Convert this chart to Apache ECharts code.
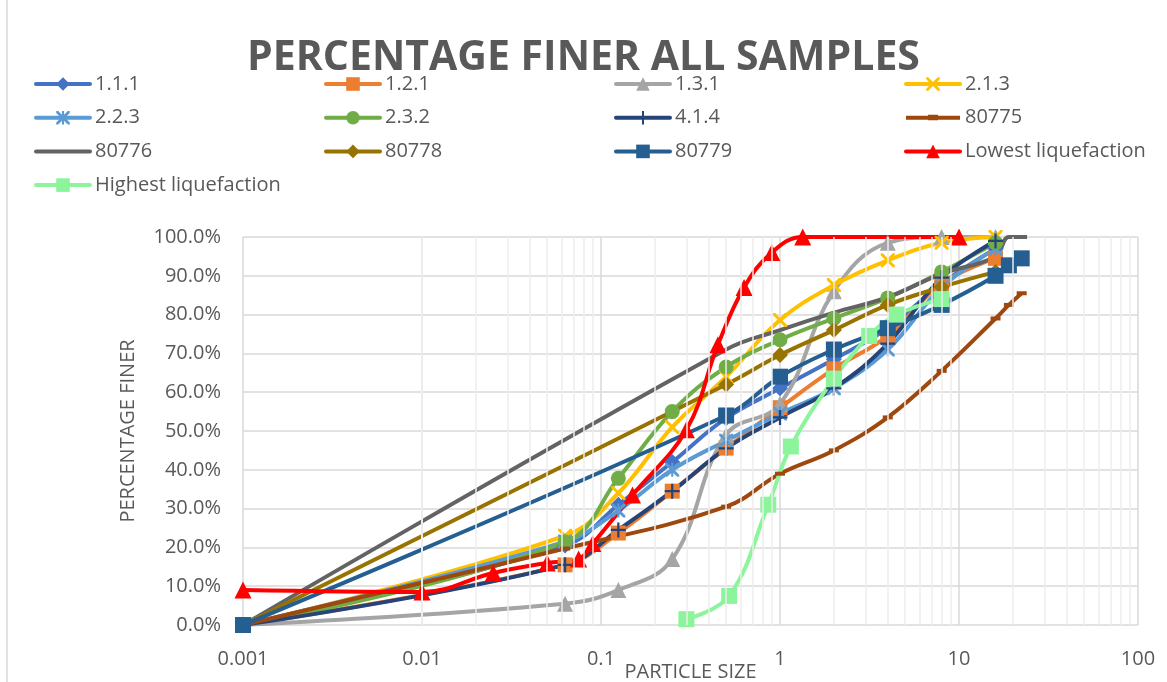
<!DOCTYPE html>
<html><head><meta charset="utf-8">
<script src="https://cdn.jsdelivr.net/npm/echarts@6/dist/echarts.min.js"></script>
<style>html,body{margin:0;padding:0;background:#fff;overflow:hidden}#c{width:1167px;height:682px}</style>
</head><body><div id="c"></div>
<script>
// ---- data ----
const SIZES = [0.001, 0.063, 0.125, 0.25, 0.5, 1, 2, 4, 8, 16];
const S_111 = [0, 20.5, 31, 42, 53.3, 61, 68.5, 76.5, 88, 97];
const S_121 = [0, 15.5, 23.7, 34.5, 45.6, 56, 66, 74.5, 88, 94.5];
const S_131 = [0, 5.5, 9, 17, 49, 57, 86, 98.5, 100, 100];
const S_213 = [0, 23, 34, 51, 64, 78.6, 87.6, 94, 98.5, 100];
const S_223 = [0, 21.5, 29.5, 40, 47.5, 54.5, 61, 71, 87, 97];
const S_232 = [0, 21.4, 37.8, 55, 66.5, 73.5, 79, 84.3, 91, 98.5];
const S_414 = [0, 15.5, 24.5, 34.5, 45.5, 53.5, 61, 72.5, 89.5, 99];
const X_80775 = [0.001, 0.063, 0.5, 1, 2, 4, 8, 16, 19, 22.4];
const S_80775 = [0, 19.7, 30.5, 39, 45, 53.5, 65.5, 79, 82.5, 85.5];
const X_80776 = [0.001, 0.5, 1, 2, 4, 8, 16, 19, 24];
const S_80776 = [0, 71, 76, 80.5, 84.5, 90.5, 95, 100, 100];
const X_80778 = [0.001, 0.5, 1, 2, 4, 8, 16];
const S_80778 = [0, 62, 69.6, 76, 82.5, 87.1, 91];
const X_80779 = [0.001, 0.5, 1, 2, 4, 8, 16, 19, 22.4];
const S_80779 = [0, 54, 64, 71, 76.5, 82.5, 90, 92.7, 94.5];
const X_LOW = [0.001, 0.01, 0.025, 0.05, 0.075, 0.09, 0.15, 0.3, 0.45, 0.63, 0.9, 1.34, 10];
const S_LOW = [9, 8.5, 13.4, 16, 17, 21, 33.5, 50.3, 72.2, 87, 96, 100, 100];
const X_HIGH = [0.3, 0.52, 0.86, 1.15, 2, 3.15, 4.5, 8];
const S_HIGH = [1.5, 7.5, 31, 46, 63.5, 74.5, 80, 84];
const X_TICKS = [0.001, 0.01, 0.1, 1, 10, 100];

// ---- symbols ----
const SYM_X = 'path://M0,0 L3,0 L10,7 L17,0 L20,0 L20,3 L13,10 L20,17 L20,20 L17,20 L10,13 L3,20 L0,20 L0,17 L7,10 L0,3 Z';
const SYM_AST = 'path://M0,0 L3,0 L10,7 L17,0 L20,0 L20,3 L13,10 L20,17 L20,20 L17,20 L10,13 L3,20 L0,20 L0,17 L7,10 L0,3 Z M8.5,0 L11.5,0 L11.5,20 L8.5,20 Z';
const SYM_PLUS = 'path://M8.5,0 L11.5,0 L11.5,8.5 L20,8.5 L20,11.5 L11.5,11.5 L11.5,20 L8.5,20 L8.5,11.5 L0,11.5 L0,8.5 L8.5,8.5 Z';
const SYM_DASH = 'path://M0,0 L10,0 L10,3 L0,3 Z';
// legend icon for 80775: line with a small dash, in a 54x17 box
const SYM_DASH_LEGEND = 'path://M0,0 L0.01,0 L0.01,0.01 Z M0,6.5 L54,6.5 L54,10.5 L0,10.5 Z M22,5.5 L32,5.5 L32,11 L22,11 Z M53.99,17 L54,17 L54,16.99 Z';

function pts(xs, ys) { return xs.map((x, i) => [x, ys[i]]); }

const FONT = '"Open Sans", "Noto Sans", sans-serif';
const TXT = '#595959';

function mk(name, color, xs, ys, symbol, size) {
  return {
    name, type: 'line', data: pts(xs, ys), smooth: 0.4,
    symbol: symbol, symbolSize: size, showSymbol: symbol !== 'none',
    lineStyle: { color, width: 4 },
    itemStyle: { color, borderWidth: 0 },
    z: 3, animation: false
  };
}

const minor = [];
[0.001, 0.01, 0.1, 1, 10].forEach(d => { for (let k = 2; k <= 9; k++) minor.push(+(d * k).toPrecision(3)); });

const series = [
  mk('1.1.1', '#4472C4', SIZES, S_111, 'diamond', 16),
  mk('1.2.1', '#ED7D31', SIZES, S_121, 'rect', 15),
  mk('1.3.1', '#A5A5A5', SIZES, S_131, 'triangle', 16),
  mk('2.1.3', '#FFC000', SIZES, S_213, SYM_X, 14),
  mk('2.2.3', '#5B9BD5', SIZES, S_223, SYM_AST, 14),
  mk('2.3.2', '#70AD47', SIZES, S_232, 'circle', 15),
  mk('4.1.4', '#264478', SIZES, S_414, SYM_PLUS, 15),
  mk('80775', '#9E480E', X_80775, S_80775, SYM_DASH, [10, 4]),
  mk('80776', '#636363', X_80776, S_80776, 'none', 1),
  mk('80778', '#997300', X_80778, S_80778, 'diamond', 16),
  mk('80779', '#255E91', X_80779, S_80779, 'rect', 16),
  mk('Lowest liquefaction', '#FF0000', X_LOW, S_LOW, 'triangle', 17),
  mk('Highest liquefaction', '#8CF59C', X_HIGH, S_HIGH, 'rect', 16),
  {
    name: 'minorgrid', type: 'line', data: [], z: 1, silent: true,
    markLine: {
      silent: true, symbol: ['none', 'none'], label: { show: false },
      lineStyle: { color: '#ECECEC', width: 1.5, type: 'solid' },
      data: minor.map(v => ({ xAxis: v }))
    }
  }
];

function legendItem(n) {
  if (n === '80776') return { name: n, itemStyle: { opacity: 0 } };
  if (n === '80775') return { name: n, icon: SYM_DASH_LEGEND };
  return n;
}

function legendCol(left, names) {
  return {
    orient: 'vertical', left: left, top: 74, padding: 0,
    itemWidth: 54, itemHeight: 17, itemGap: 13.7,
    lineStyle: { width: 4, cap: 'round' },
    textStyle: { fontFamily: FONT, fontSize: 20, color: TXT, lineHeight: 20 },
    data: names.map(legendItem)
  };
}

const chart = echarts.init(document.getElementById('c'), null, { renderer: 'canvas', width: 1167, height: 682 });
chart.setOption({
  animation: false,
  backgroundColor: '#fff',
  title: {
    text: 'PERCENTAGE FINER ALL SAMPLES', left: 'center', top: 33,
    textStyle: { fontFamily: FONT, fontSize: 41, fontWeight: 'bold', color: TXT }
  },
  legend: [
    legendCol(34, ['1.1.1', '2.2.3', '80776', 'Highest liquefaction']),
    legendCol(324, ['1.2.1', '2.3.2', '80778']),
    legendCol(614, ['1.3.1', '4.1.4', '80779']),
    legendCol(904, ['2.1.3', '80775', 'Lowest liquefaction'])
  ],
  grid: { left: 243, right: 29, top: 237, bottom: 57, containLabel: false, outerBoundsMode: 'none' },
  xAxis: {
    type: 'log', logBase: 10, min: X_TICKS[0], max: X_TICKS[X_TICKS.length - 1],
    name: 'PARTICLE SIZE', nameLocation: 'middle', nameGap: 37, nameMoveOverlap: false,
    nameTextStyle: { fontFamily: FONT, fontSize: 20, color: TXT },
    axisLine: { show: false }, axisTick: { show: false },
    axisLabel: {
      margin: 24, fontFamily: FONT, fontSize: 20, color: TXT,
      formatter: v => String(+v.toPrecision(3))
    },
    splitLine: { show: true, lineStyle: { color: '#D9D9D9', width: 1.5 } }
  },
  yAxis: {
    type: 'value', min: 0, max: 100, interval: 10,
    name: 'PERCENTAGE FINER', nameLocation: 'middle', nameGap: 105, nameRotate: 90, nameMoveOverlap: false,
    nameTextStyle: { fontFamily: FONT, fontSize: 20, color: TXT },
    axisLine: { show: false }, axisTick: { show: false },
    axisLabel: {
      margin: 22, fontFamily: FONT, fontSize: 20, color: TXT,
      formatter: v => v.toFixed(1) + '%'
    },
    splitLine: { show: true, lineStyle: { color: '#D9D9D9', width: 1.5 } }
  },
  graphic: [{
    type: 'line', shape: { x1: 7, y1: 0, x2: 7, y2: 682 },
    style: { stroke: '#D9D9D9', lineWidth: 1.5 }, silent: true
  }],
  series: series
});
</script></body></html>
